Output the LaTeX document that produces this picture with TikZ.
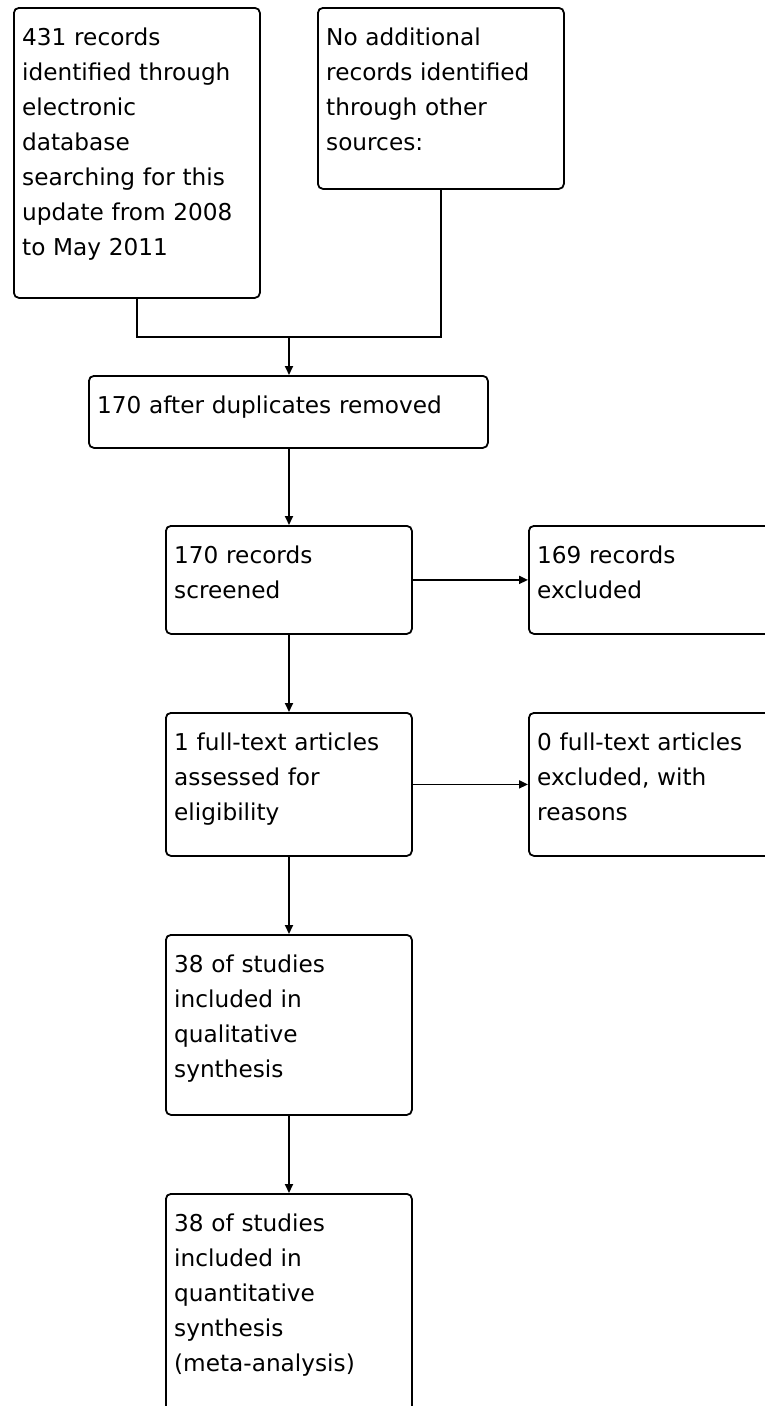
\documentclass[tikz,border=0pt]{standalone}
\usepackage{fontspec}
\setmainfont{DejaVu Sans}
\usetikzlibrary{arrows.meta}
\tikzset{
  box/.style={draw, line width=1.8pt, rounded corners=5pt, inner sep=0pt, anchor=north west},
  txt/.style={anchor=base west, inner sep=0pt, align=left, text width=450pt,
    font={\fontsize{23.2pt}{35pt}\selectfont}, text=black},
  conn/.style={line width=1.8pt},
  arr/.style={line width=1.8pt, -{Triangle[length=9pt,width=8pt]}}
}
\begin{document}
\begin{tikzpicture}[x=1pt,y=-1pt]
\useasboundingbox (0,0) rectangle (765,1406);
\clip (0,0) rectangle (765,1406);
% boxes
\node[box, minimum width=246pt, minimum height=290pt] (b1) at (13,7) {};
\node[box, minimum width=246pt, minimum height=181pt] (b2) at (317,7) {};
\node[box, minimum width=399pt, minimum height=72pt] (b3) at (88,375) {};
\node[box, minimum width=246pt, minimum height=108pt] (b4) at (165,525) {};
\node[box, minimum width=246pt, minimum height=108pt] (b5) at (528,525) {};
\node[box, minimum width=246pt, minimum height=143pt] (b6) at (165,712) {};
\node[box, minimum width=246pt, minimum height=143pt] (b7) at (528,712) {};
\node[box, minimum width=246pt, minimum height=180pt] (b8) at (165,934) {};
\node[box, minimum width=246pt, minimum height=240pt] (b9) at (165,1193) {};
% texts
\node[txt] (t1) at ([xshift=9pt,yshift=-38pt]b1.north west) {431 records\\identified through\\electronic\\database\\searching for this\\update from 2008\\to May 2011};
\node[txt] (t2) at ([xshift=9pt,yshift=-38pt]b2.north west) {No additional\\records identified\\through other\\sources:};
\node[txt] (t3) at ([xshift=9pt,yshift=-38pt]b3.north west) {170 after duplicates removed};
\node[txt] (t4) at ([xshift=9pt,yshift=-38pt]b4.north west) {170 records\\screened};
\node[txt] (t5) at ([xshift=9pt,yshift=-38pt]b5.north west) {169 records\\excluded};
\node[txt] (t6) at ([xshift=9pt,yshift=-38pt]b6.north west) {1 full-text articles\\assessed for\\eligibility};
\node[txt] (t7) at ([xshift=9pt,yshift=-38pt]b7.north west) {0 full-text articles\\excluded, with\\reasons};
\node[txt] (t8) at ([xshift=9pt,yshift=-38pt]b8.north west) {38 of studies\\included in\\qualitative\\synthesis};
\node[txt] (t9) at ([xshift=9pt,yshift=-38pt]b9.north west) {38 of studies\\included in\\quantitative\\synthesis\\(meta-analysis)};
% connectors
\coordinate (j) at (289,337);
\draw[conn] (b1.south) |- (j) -| (b2.south);
\draw[arr] (j) -- (j |- b3.north);
\draw[arr] (j |- b3.south) -- (j |- b4.north);
\draw[arr] (b4.east) -- (b4.east -| b5.west);
\draw[arr] (j |- b4.south) -- (j |- b6.north);
\draw[arr] (b6.east) -- (b6.east -| b7.west);
\draw[arr] (j |- b6.south) -- (j |- b8.north);
\draw[arr] (j |- b8.south) -- (j |- b9.north);
\end{tikzpicture}
\end{document}
